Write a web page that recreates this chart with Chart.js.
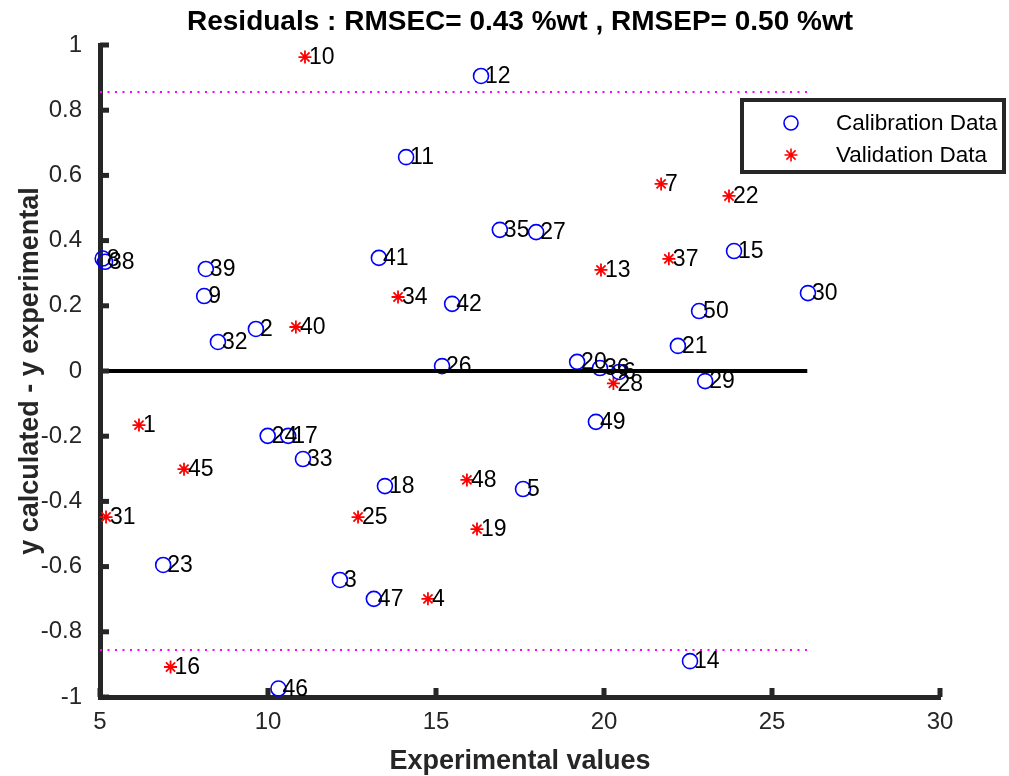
<!DOCTYPE html>
<html><head><meta charset="utf-8">
<script src="https://cdn.jsdelivr.net/npm/chart.js@4"></script>
<style>html,body{margin:0;padding:0;background:#fff}</style>
</head><body>
<canvas id="c" width="1009" height="776"></canvas>
<script>
// ---- data ----
const calLabels = ['2','3','5','6','8','9','11','12','14','15','17','18','20','21','23','24','26','27','29','30','32','33','35','36','38','39','41','42','46','47','49','50'];
const calX = [9.64,12.14,17.59,20.45,5.08,8.10,14.11,16.34,22.56,23.87,10.60,13.48,19.20,22.20,6.88,9.99,15.18,17.98,23.01,26.07,8.51,11.04,16.90,19.88,5.15,8.15,13.30,15.48,10.31,13.15,19.76,22.83];
const calY = [0.129,-0.641,-0.362,-0.003,0.345,0.230,0.656,0.905,-0.890,0.368,-0.199,-0.353,0.028,0.077,-0.595,-0.199,0.015,0.426,-0.031,0.239,0.089,-0.270,0.433,0.009,0.335,0.313,0.347,0.206,-0.974,-0.699,-0.156,0.184];
const valLabels = ['1','4','7','10','13','16','19','22','25','28','31','34','37','40','45','48'];
const valX = [6.16,14.76,21.70,11.10,19.91,7.10,16.22,23.72,12.68,20.28,5.18,13.87,21.93,10.83,7.50,15.92];
const valY = [-0.166,-0.699,0.574,0.963,0.310,-0.908,-0.485,0.537,-0.448,-0.038,-0.448,0.227,0.344,0.135,-0.301,-0.334];
const xTickValues = [5,10,15,20,25,30];
const yTickValues = [-1,-0.8,-0.6,-0.4,-0.2,0,0.2,0.4,0.6,0.8,1];
const refLineX = [5,26.05];
const zeroY = 0;
const limitY = 0.856;
const titleText = 'Residuals : RMSEC= 0.43 %wt , RMSEP= 0.50 %wt';
const xTitle = 'Experimental values';
const yTitle = 'y calculated - y experimental';
const legendNames = ['Calibration Data','Validation Data'];

const FONT = "'Liberation Sans', Arial, Helvetica, sans-serif";
const AX = '#262626';

const pointLabels = {
  id: 'pointLabels',
  afterDatasetsDraw(chart) {
    const {ctx, scales:{x, y}} = chart;
    ctx.save();
    ctx.font = '23px ' + FONT;
    ctx.fillStyle = '#000';
    ctx.textBaseline = 'middle';
    ctx.textAlign = 'left';
    const draw = (xs, ys, ls) => xs.forEach((v,i) => {
      ctx.fillText(ls[i], x.getPixelForValue(v) + 4, y.getPixelForValue(ys[i]) + 1);
    });
    draw(calX, calY, calLabels);
    draw(valX, valY, valLabels);
    ctx.restore();
  },
  afterDraw(chart) {
    const {ctx, chartArea:ca, scales:{x, y}} = chart;
    ctx.save();
    // inward ticks
    ctx.fillStyle = AX;
    xTickValues.forEach(v => {
      const px = x.getPixelForValue(v);
      ctx.fillRect(px - 2.5, ca.bottom - 9, 5, 9);
    });
    yTickValues.forEach(v => {
      const py = y.getPixelForValue(v);
      ctx.fillRect(ca.left, py - 2.5, 9, 5);
    });
    // legend
    const L = 742, T = 100, R = 1004, B = 172;
    ctx.fillStyle = '#fff';
    ctx.fillRect(L, T, R - L, B - T);
    ctx.strokeStyle = AX;
    ctx.lineWidth = 4;
    ctx.strokeRect(L, T, R - L, B - T);
    const mx = 791, y1 = 123, y2 = 155;
    ctx.lineWidth = 1.6;
    ctx.strokeStyle = '#0000ff';
    ctx.beginPath(); ctx.arc(mx, y1, 7, 0, Math.PI * 2); ctx.stroke();
    ctx.strokeStyle = '#ff0000';
    ctx.beginPath();
    for (let k = 0; k < 4; k++) {
      const a = k * Math.PI / 4;
      ctx.moveTo(mx - 6.5 * Math.cos(a), y2 - 6.5 * Math.sin(a));
      ctx.lineTo(mx + 6.5 * Math.cos(a), y2 + 6.5 * Math.sin(a));
    }
    ctx.stroke();
    ctx.fillStyle = '#000';
    ctx.font = '22.5px ' + FONT;
    ctx.textBaseline = 'middle';
    ctx.fillText(legendNames[0], 836, y1 + 1);
    ctx.fillText(legendNames[1], 836, y2 + 1);
    ctx.restore();
  }
};

new Chart(document.getElementById('c'), {
  type: 'scatter',
  data: {
    datasets: [
      { label: legendNames[0], data: calX.map((v,i)=>({x:v, y:calY[i]})),
        pointStyle: 'circle', pointRadius: 7.5, pointHoverRadius: 7.5,
        borderColor: '#0000ff', backgroundColor: 'rgba(0,0,0,0)', borderWidth: 1.6, order: 2, clip: false },
      { label: legendNames[1], data: valX.map((v,i)=>({x:v, y:valY[i]})),
        pointStyle: 'star', pointRadius: 6.5, pointHoverRadius: 6.5,
        borderColor: '#ff0000', backgroundColor: '#ff0000', borderWidth: 1.8, order: 2, clip: false },
      { type: 'line', label: 'zero', data: refLineX.map(v=>({x:v, y:zeroY})),
        borderColor: '#000', borderWidth: 4, pointRadius: 0, order: 1 },
      { type: 'line', label: 'upper', data: refLineX.map(v=>({x:v, y:limitY})),
        borderColor: '#ff00ff', borderWidth: 2, borderDash: [2,5.5], pointRadius: 0, order: 3 },
      { type: 'line', label: 'lower', data: refLineX.map(v=>({x:v, y:-limitY})),
        borderColor: '#ff00ff', borderWidth: 2, borderDash: [2,5.5], pointRadius: 0, order: 3 }
    ]
  },
  options: {
    responsive: false,
    animation: false,
    devicePixelRatio: 1,
    layout: { padding: { left: 0, right: 69, top: 0, bottom: 0 } },
    plugins: {
      legend: { display: false },
      tooltip: { enabled: false },
      title: { display: true, fullSize: false, text: titleText, color: '#000',
        font: { family: FONT, size: 28, weight: 'bold' }, padding: { top: 5, bottom: 6.4 } }
    },
    scales: {
      x: {
        type: 'linear', min: 5, max: 30,
        afterBuildTicks: s => { s.ticks = xTickValues.map(v=>({value:v})); },
        afterFit: s => { s.height = 79; },
        grid: { display: false },
        border: { display: true, color: AX, width: 5 },
        ticks: { color: AX, font: { family: FONT, size: 24 }, padding: 3, maxRotation: 0 },
        title: { display: true, text: xTitle, color: AX, font: { family: FONT, size: 27, weight: 'bold' }, padding: { top: 0, bottom: -2 } }
      },
      y: {
        type: 'linear', min: -1, max: 1,
        afterBuildTicks: s => { s.ticks = yTickValues.map(v=>({value:v})); },
        afterFit: s => { s.width = 100; },
        grid: { display: false },
        border: { display: true, color: AX, width: 5 },
        ticks: { color: AX, font: { family: FONT, size: 24 }, padding: 10,
          callback: v => String(+v.toFixed(1)) },
        title: { display: true, text: yTitle, color: AX, font: { family: FONT, size: 27, weight: 'bold' }, padding: { top: 14, bottom: 0 } }
      }
    }
  },
  plugins: [pointLabels]
});
</script>
</body></html>
